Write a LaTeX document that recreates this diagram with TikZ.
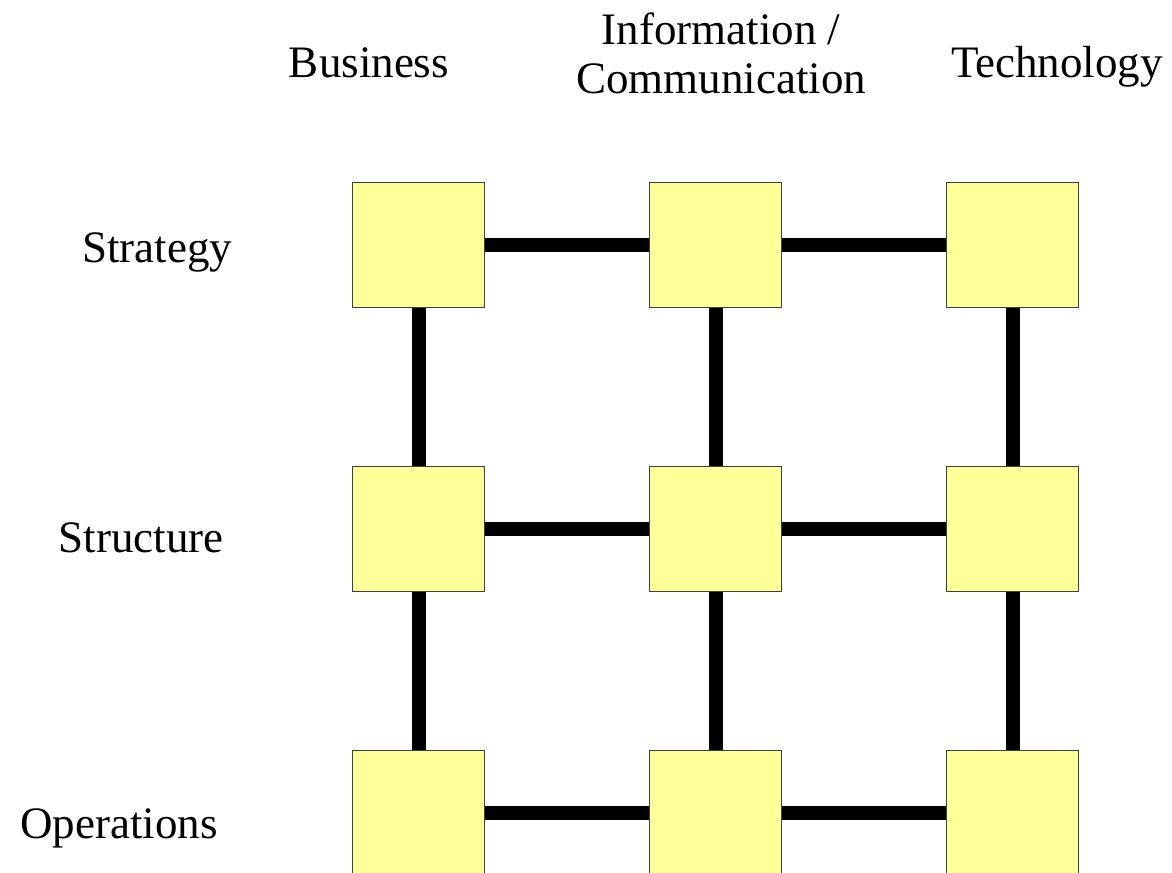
\documentclass[tikz,border=0pt]{standalone}
\usepackage{fontspec}
\setmainfont{Liberation Serif}
\usepackage{xcolor}
\usepackage{tikz}
\usetikzlibrary{positioning,matrix}
\definecolor{boxyellow}{HTML}{FFFF99}

\begin{document}
\begin{tikzpicture}[x=0.025cm, y=-0.025cm,
    every node/.style={font=\fontsize{32}{35.5}\selectfont},
    link/.style={line width=0.35cm}]
    \useasboundingbox (0,0) rectangle (1172,873);

    \matrix (m) [matrix of nodes, nodes in empty cells, matrix anchor=m-1-1.north west,
      nodes={draw=black!75, line width=0.7pt, fill=boxyellow, minimum width=3.3cm, minimum height=3.125cm, inner sep=0pt},
      column sep=4.1cm, row sep=3.95cm] at (352,182) {
      & & \\
      & & \\
      & & \\
    };

    \node[anchor=base] (business) at (369,78) {Business};
    \node[anchor=base, align=center] (info) at (721,94) {Information /\\Communication};
    \node[anchor=base] (tech) at (1057,78) {Technology};

    \node[anchor=base] (strategy) at (157,263) {Strategy};
    \node[anchor=base] (structure) at (141,552) {Structure};
    \node[anchor=base] (operations) at (119,838) {Operations};

    \foreach \r in {1,2,3} {
      \draw[link] (m-\r-1) -- (m-\r-2);
      \draw[link] (m-\r-2) -- (m-\r-3);
    }
    \foreach \c in {1,2,3} {
      \draw[link] (m-1-\c) -- (m-2-\c);
      \draw[link] (m-2-\c) -- (m-3-\c);
    }

  \end{tikzpicture}
\end{document}
